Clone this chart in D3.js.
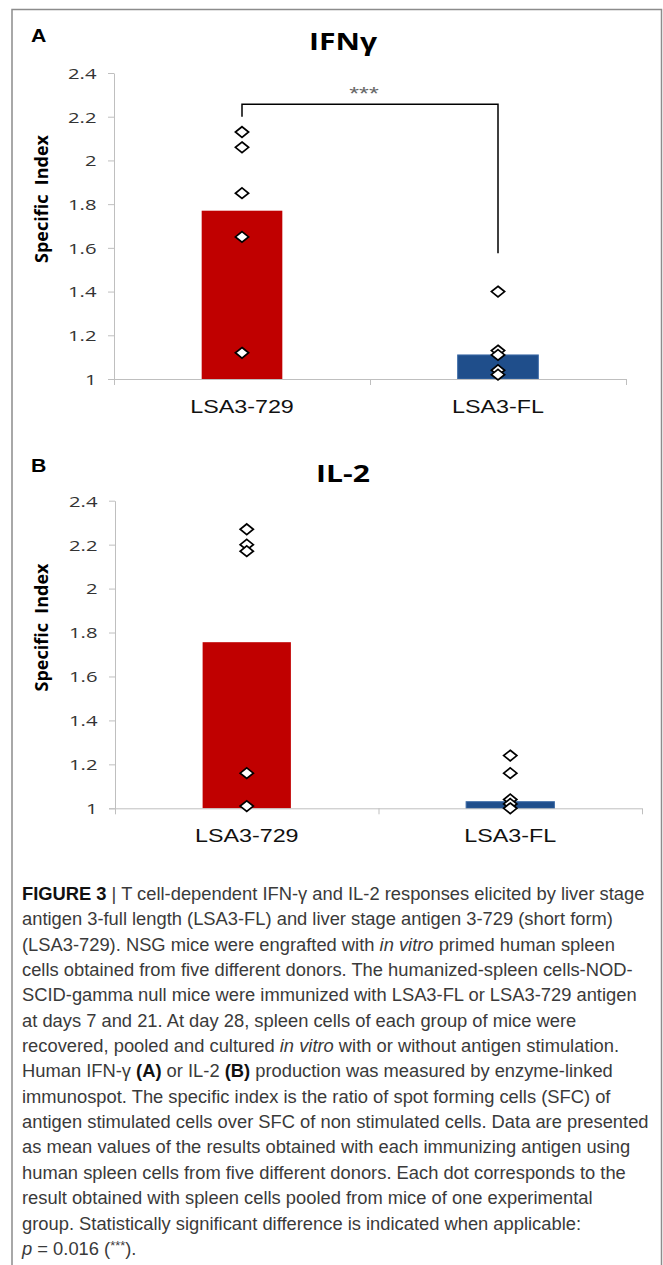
<!DOCTYPE html>
<html>
<head>
<meta charset="utf-8">
<script src="https://cdn.jsdelivr.net/npm/d3@7"></script>
<style>
  html, body { margin: 0; padding: 0; background: #fff; }
  svg { display: block; }
</style>
</head>
<body>
<div id="chart"></div>
<script>
// values
const groups = ['LSA3-729', 'LSA3-FL'];
const yTickValues = [1, 1.2, 1.4, 1.6, 1.8, 2, 2.2, 2.4];

const ifngMeans = [1.77, 1.11];
const ifngDots729 = [2.13, 2.06, 1.85, 1.65, 1.12];
const ifngDotsFL = [1.40, 1.13, 1.11, 1.04, 1.02];
// bracket: left end, top, right end
const ifngBracket = [2.2, 2.257, 1.575];
const sigLabel = '***';

const il2Means = [1.756, 1.03];
const il2Dots729 = [2.27, 2.20, 2.17, 1.16, 1.01];
const il2DotsFL = [1.24, 1.16, 1.04, 1.02, 1.00];

const barColors = ['#c00000', '#1f4e8b'];

const width = 663, height = 1265;
const sx = 1.3; // chart part of the figure is stretched sideways

const svg = d3.select('#chart').append('svg')
  .attr('width', width)
  .attr('height', height)
  .attr('viewBox', `0 0 ${width} ${height}`);

svg.append('rect').attr('width', width).attr('height', height).attr('fill', '#fff');

// frame round the figure
svg.append('path')
  .attr('d', `M12,${height} V9.5 H661.5 V${height}`)
  .attr('fill', 'none')
  .attr('stroke', '#8c8c8c')
  .attr('stroke-width', 1.5);

function stretched(g, x, y, str, opts) {
  return g.append('text')
    .attr('transform', `translate(${x},${y}) scale(${opts.sx || sx},1)`)
    .attr('text-anchor', opts.anchor || 'middle')
    .attr('font-family', opts.font || 'Open Sans')
    .attr('font-weight', opts.weight || 'normal')
    .attr('font-size', opts.size)
    .attr('fill', opts.fill || '#000')
    .text(str);
}

const panels = [
  { letter: 'A', title: 'IFNγ', means: ifngMeans, dots: [ifngDots729, ifngDotsFL], bracket: ifngBracket,
    top: 73, bottom: 379, left: 114, right: 626, barFrac: 0.315, letterY: 42, titleY: 50 },
  { letter: 'B', title: 'IL-2', means: il2Means, dots: [il2Dots729, il2DotsFL], bracket: null,
    top: 500.7, bottom: 808.3, left: 115, right: 642, barFrac: 0.335, letterY: 472, titleY: 482.3 }
];

const diamond = 'M0,-5.3L6.6,0L0,5.3L-6.6,0Z';

panels.forEach(p => {
  const g = svg.append('g');

  const y = d3.scaleLinear().domain([1, 2.4]).range([p.bottom, p.top]);
  const x = d3.scaleBand().domain(groups).range([p.left, p.right]).padding(0);
  const xEdge = d3.scaleLinear().domain([0, groups.length]).range([p.left, p.right]);
  const barW = x.bandwidth() * p.barFrac;

  // panel letter and title
  stretched(g, 31, p.letterY, p.letter,
    { size: 19, font: 'Liberation Sans', weight: 'bold', anchor: 'start', sx: 1.12 });
  stretched(g, 343, p.titleY, p.title, { size: 23.5, weight: 'bold', sx: 1.28 });

  // bars
  g.selectAll('.bar')
    .data(p.means)
    .enter()
    .append('rect')
    .attr('class', 'bar')
    .attr('x', (d, i) => x(groups[i]) + (x.bandwidth() - barW) / 2)
    .attr('y', d => y(d))
    .attr('width', barW)
    .attr('height', d => y(1) - y(d))
    .attr('fill', (d, i) => barColors[i])
    .attr('stroke', (d, i) => i === 1 ? '#3b6aa6' : 'none')
    .attr('stroke-width', 1);

  // y axis
  const yAxis = g.append('g')
    .attr('transform', `translate(${p.left},0)`)
    .call(d3.axisLeft(y).tickValues(yTickValues).tickSize(6).tickSizeOuter(0).tickPadding(7)
      .tickFormat(d => String(d)));
  yAxis.select('.domain').attr('stroke', '#bfbfbf');
  yAxis.selectAll('.tick line').attr('stroke', '#bfbfbf');
  yAxis.selectAll('.tick text')
    .attr('font-family', 'Open Sans')
    .attr('font-size', 15)
    .attr('fill', '#333')
    .attr('dy', '0.36em')
    .attr('transform', `scale(${sx + 0.05},1)`);

  // x axis with ticks between categories
  const xAxis = g.append('g')
    .attr('transform', `translate(0,${y(1)})`)
    .call(d3.axisBottom(xEdge).tickValues(d3.range(groups.length + 1)).tickSize(6).tickSizeOuter(0)
      .tickFormat(''));
  xAxis.select('.domain').attr('stroke', '#bfbfbf').attr('d', `M${p.left - 6},0.5H${p.right}`);
  xAxis.selectAll('.tick line').attr('stroke', '#bfbfbf');

  groups.forEach(name => {
    stretched(g, x(name) + x.bandwidth() / 2, y(1) + 34, name,
      { size: 18.5, font: 'Liberation Sans', fill: '#111', sx: 1.26 });
  });

  // y axis title
  g.append('text')
    .attr('transform', `translate(42,${(p.top + p.bottom) / 2 - 27}) rotate(-90) scale(1.06,1)`)
    .attr('text-anchor', 'middle')
    .attr('dy', '0.35em')
    .attr('font-family', 'Open Sans')
    .attr('font-weight', 'bold')
    .attr('font-size', 17)
    .attr('xml:space', 'preserve')
    .style('white-space', 'pre')
    .text('Specific  Index');

  // significance bracket
  if (p.bracket) {
    const [yl, yt, yr] = p.bracket;
    const cx0 = x(groups[0]) + x.bandwidth() / 2;
    const cx1 = x(groups[1]) + x.bandwidth() / 2;
    g.append('path')
      .attr('d', `M${cx0},${y(yl)}V${y(yt)}H${cx1}V${y(yr)}`)
      .attr('fill', 'none')
      .attr('stroke', '#000')
      .attr('stroke-width', 1.5);
    stretched(g, (cx0 + cx1) / 2 - 6, y(yt) - 4, sigLabel,
      { size: 18, font: 'Liberation Sans', fill: '#666', sx: 1.4 });
  }

  // individual results
  p.dots.forEach((vals, i) => {
    const cx = x(groups[i]) + x.bandwidth() / 2;
    g.selectAll(null)
      .data(vals)
      .enter()
      .append('path')
      .attr('d', diamond)
      .attr('transform', d => `translate(${cx},${y(d)})`)
      .attr('fill', '#fff')
      .attr('stroke', '#000')
      .attr('stroke-width', 1.7);
  });
});

// caption
const captionLines = [
  [['FIGURE 3', 'b'], [' | T cell-dependent IFN-γ and IL-2 responses elicited by liver stage']],
  [['antigen 3-full length (LSA3-FL) and liver stage antigen 3-729 (short form)']],
  [['(LSA3-729). NSG mice were engrafted with '], ['in vitro', 'i'], [' primed human spleen']],
  [['cells obtained from five different donors. The humanized-spleen cells-NOD-']],
  [['SCID-gamma null mice were immunized with LSA3-FL or LSA3-729 antigen']],
  [['at days 7 and 21. At day 28, spleen cells of each group of mice were']],
  [['recovered, pooled and cultured '], ['in vitro', 'i'], [' with or without antigen stimulation.']],
  [['Human IFN-γ '], ['(A)', 'b'], [' or IL-2 '], ['(B)', 'b'], [' production was measured by enzyme-linked']],
  [['immunospot. The specific index is the ratio of spot forming cells (SFC) of']],
  [['antigen stimulated cells over SFC of non stimulated cells. Data are presented']],
  [['as mean values of the results obtained with each immunizing antigen using']],
  [['human spleen cells from five different donors. Each dot corresponds to the']],
  [['result obtained with spleen cells pooled from mice of one experimental']],
  [['group. Statistically significant difference is indicated when applicable:']],
  [['p', 'i'], [' = 0.016 ('], ['***', 'sup'], [').']]
];

const capX = 22, capY = 900, capStep = 25.35;
const cap = svg.append('g')
  .attr('font-family', 'Liberation Sans')
  .attr('font-size', 18.5)
  .attr('fill', '#3a3a3a');

const lineNodes = captionLines.map((segs, li) => {
  const t = cap.append('text')
    .attr('x', 0)
    .attr('y', capY + li * capStep)
    .attr('xml:space', 'preserve')
    .style('white-space', 'pre');
  segs.forEach(([str, st]) => {
    const ts = t.append('tspan').text(str);
    if (st === 'b') ts.attr('font-weight', 'bold').attr('fill', '#111');
    if (st === 'i') ts.attr('font-style', 'italic');
    if (st === 'sup') ts.attr('font-size', '0.7em').attr('baseline-shift', '35%');
  });
  return t;
});

// squeeze the caption sideways so its first line ends where the figure's does
const w1 = lineNodes[0].node().getComputedTextLength();
cap.attr('transform', `translate(${capX},0) scale(${(645 - capX) / w1},1)`);
</script>
</body>
</html>
